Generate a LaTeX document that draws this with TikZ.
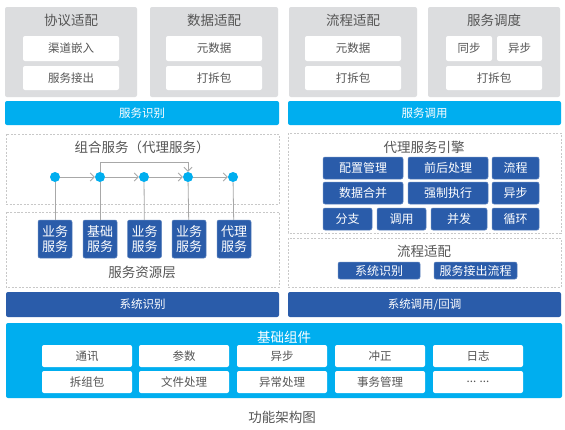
\documentclass[tikz,border=0pt]{standalone}
\usepackage{fontspec}
\setmainfont{Noto Sans CJK SC}
\usetikzlibrary{arrows.meta}
\definecolor{panelgray}{HTML}{DCDDDF}
\definecolor{skyblue}{HTML}{00AEEF}
\definecolor{deepblue}{HTML}{2A5CAA}
\definecolor{textgray}{HTML}{555555}
\definecolor{linegray}{HTML}{A8A8A8}
\definecolor{zonegray}{HTML}{C8C8C8}
\tikzstyle{panel}=[fill=panelgray, rounded corners=2pt, inner sep=0pt]
\tikzstyle{slot}=[fill=white, rounded corners=2pt, inner sep=0pt, text=textgray, font=\fontsize{11.5}{12}\selectfont]
\tikzstyle{bar sky}=[fill=skyblue, rounded corners=2pt, inner sep=0pt, text=white, font=\fontsize{11.5}{12}\selectfont]
\tikzstyle{bar deep}=[fill=deepblue, rounded corners=2pt, inner sep=0pt, text=white, font=\fontsize{11.5}{12}\selectfont]
\tikzstyle{tile}=[fill=deepblue, draw=deepblue!75!white, line width=.5pt, rounded corners=2pt, inner sep=0pt, text=white, font=\fontsize{12}{13}\selectfont]
\tikzstyle{pair}=[tile, align=center, minimum width=34pt, minimum height=38pt, font=\fontsize{13}{14.5}\selectfont]
\tikzstyle{zone}=[draw=zonegray, dash pattern=on 2pt off 1.5pt, line width=.5pt]
\tikzstyle{hub}=[circle, fill=skyblue, inner sep=0pt, minimum size=10pt]
\tikzstyle{heading}=[text=textgray, font=\fontsize{13.5}{14}\selectfont]
\tikzstyle{link}=[draw=linegray, line width=.8pt]

\begin{document}
\begin{tikzpicture}[>={Straight Barb[length=4pt,width=8pt]},x=1pt,y=-1pt]
    \useasboundingbox (0,0) rectangle (565,429);
    \fill[white] (0,0) rectangle (565,429);

    % Adapters
    \draw (71,52) node[panel, minimum width=132pt, minimum height=90pt] (xieyi) {};
    \draw (214,52) node[panel, minimum width=128pt, minimum height=90pt] (shuju) {};
    \draw (353,52) node[panel, minimum width=128pt, minimum height=90pt] (liucheng) {};
    \draw (494,52) node[panel, minimum width=132pt, minimum height=90pt] (diaodu) {};
    \draw (71,20) node[heading] (xieyi title) {协议适配};
    \draw (214,20) node[heading] (shuju title) {数据适配};
    \draw (353,20) node[heading] (liucheng title) {流程适配};
    \draw (494,20) node[heading] (diaodu title) {服务调度};
    \draw (71,48.5) node[slot, minimum width=96pt, minimum height=25pt] (qudao) {渠道嵌入};
    \draw (71,78) node[slot, minimum width=96pt, minimum height=24pt] (jiechu) {服务接出};
    \draw (214,48.5) node[slot, minimum width=96pt, minimum height=25pt] (yuan a) {元数据};
    \draw (214,78) node[slot, minimum width=96pt, minimum height=24pt] (chai a) {打拆包};
    \draw (353,48.5) node[slot, minimum width=96pt, minimum height=25pt] (yuan b) {元数据};
    \draw (353,78) node[slot, minimum width=96pt, minimum height=24pt] (chai b) {打拆包};
    \draw (469,48.5) node[slot, minimum width=46pt, minimum height=25pt] (tongbu) {同步};
    \draw (519.5,48.5) node[slot, minimum width=45pt, minimum height=25pt] (yibu a) {异步};
    \draw (494,78) node[slot, minimum width=96pt, minimum height=24pt] (chai c) {打拆包};

    % Entry bars
    \draw (142,113) node[bar sky, minimum width=274pt, minimum height=24pt] (shibie) {服务识别};
    \draw (424.5,113) node[bar sky, minimum width=273pt, minimum height=24pt] (diaoyong) {服务调用};

    % Composite services
    \draw[zone] (6,134) rectangle (279,204);
    \draw (142,147) node[heading] (zuhe) {组合服务（代理服务）};
    \draw (55,177) node[hub] (c1) {};
    \draw (100,177) node[hub] (c2) {};
    \draw (144,177) node[hub] (c3) {};
    \draw (188,177) node[hub] (c4) {};
    \draw (233,177) node[hub] (c5) {};
    \draw[link,->] (c1) -- (c2);
    \draw[link,->] (c2) -- (c3);
    \draw[link,->] (c3) -- (c4);
    \draw[link,->] (c4) -- (c5);
    \draw[link,->] (c2.north) -- ++(0,-9) -| (c4.north);

    % Service resources
    \draw[zone] (6,212) rectangle (279,287);
    \draw (55,239) node[pair] (t1) {业务\\服务};
    \draw (100,239) node[pair] (t2) {基础\\服务};
    \draw (144.5,239) node[pair] (t3) {业务\\服务};
    \draw (189,239) node[pair] (t4) {业务\\服务};
    \draw (234,239) node[pair] (t5) {代理\\服务};
    \draw[link] (c1) -- (t1);
    \draw[link] (c2) -- (t2);
    \draw[link] (c3) -- (t3);
    \draw[link] (c4) -- (t4);
    \draw[link] (c5) -- (t5);
    \draw (142,272) node[heading] (ziyuan) {服务资源层};

    % Proxy engine
    \draw[zone] (288,133) rectangle (561,233);
    \draw (424,147) node[heading] (yinqing) {代理服务引擎};
    \draw (363,168) node[tile, minimum width=80pt, minimum height=22pt] (peizhi) {配置管理};
    \draw (448,168) node[tile, minimum width=80pt, minimum height=22pt] (qianhou) {前后处理};
    \draw (515.5,168) node[tile, minimum width=47pt, minimum height=22pt] (lc) {流程};
    \draw (363,193) node[tile, minimum width=80pt, minimum height=22pt] (hebing) {数据合并};
    \draw (448,193) node[tile, minimum width=80pt, minimum height=22pt] (qiangzhi) {强制执行};
    \draw (515.5,193) node[tile, minimum width=47pt, minimum height=22pt] (yibu b) {异步};
    \draw (347.5,219) node[tile, minimum width=49pt, minimum height=22pt] (fenzhi) {分支};
    \draw (401.5,219) node[tile, minimum width=49pt, minimum height=22pt] (dy) {调用};
    \draw (459,219) node[tile, minimum width=56pt, minimum height=22pt] (bingfa) {并发};
    \draw (515.5,219) node[tile, minimum width=47pt, minimum height=22pt] (xunhuan) {循环};

    % Flow adapter
    \draw[zone] (288,238) rectangle (561,287);
    \draw (424,251) node[heading] (shipei) {流程适配};
    \draw (379,270.5) node[tile, minimum width=82pt, minimum height=17pt] (xt shibie) {系统识别};
    \draw (475.5,270.5) node[tile, minimum width=83pt, minimum height=17pt] (jc liucheng) {服务接出流程};

    % System bars
    \draw (142.5,304.5) node[bar deep, minimum width=273pt, minimum height=25pt] (xitong a) {系统识别};
    \draw (424.5,304.5) node[bar deep, minimum width=273pt, minimum height=25pt] (xitong b) {系统调用/回调};

    % Base components
    \draw (284,360.5) node[bar sky, minimum width=556pt, minimum height=75pt] (jichu) {};
    \draw (284,337) node[heading, text=white] (jichu title) {基础组件};
    \draw (87,356) node[slot, minimum width=90pt, minimum height=22pt] (tongxun) {通讯};
    \draw (184,356) node[slot, minimum width=90pt, minimum height=22pt] (canshu) {参数};
    \draw (282,356) node[slot, minimum width=90pt, minimum height=22pt] (yibu c) {异步};
    \draw (380,356) node[slot, minimum width=90pt, minimum height=22pt] (chongzheng) {冲正};
    \draw (478,356) node[slot, minimum width=90pt, minimum height=22pt] (rizhi) {日志};
    \draw (87,382) node[slot, minimum width=90pt, minimum height=22pt] (chaizu) {拆组包};
    \draw (184,382) node[slot, minimum width=90pt, minimum height=22pt] (wenjian) {文件处理};
    \draw (282,382) node[slot, minimum width=90pt, minimum height=22pt] (yichang) {异常处理};
    \draw (380,382) node[slot, minimum width=90pt, minimum height=22pt] (shiwu) {事务管理};
    \draw (478,382) node[slot, minimum width=90pt, minimum height=22pt] (more) {... ...};

    % Caption
    \draw (282,417) node[heading] (caption) {功能架构图};
\end{tikzpicture}
\end{document}
